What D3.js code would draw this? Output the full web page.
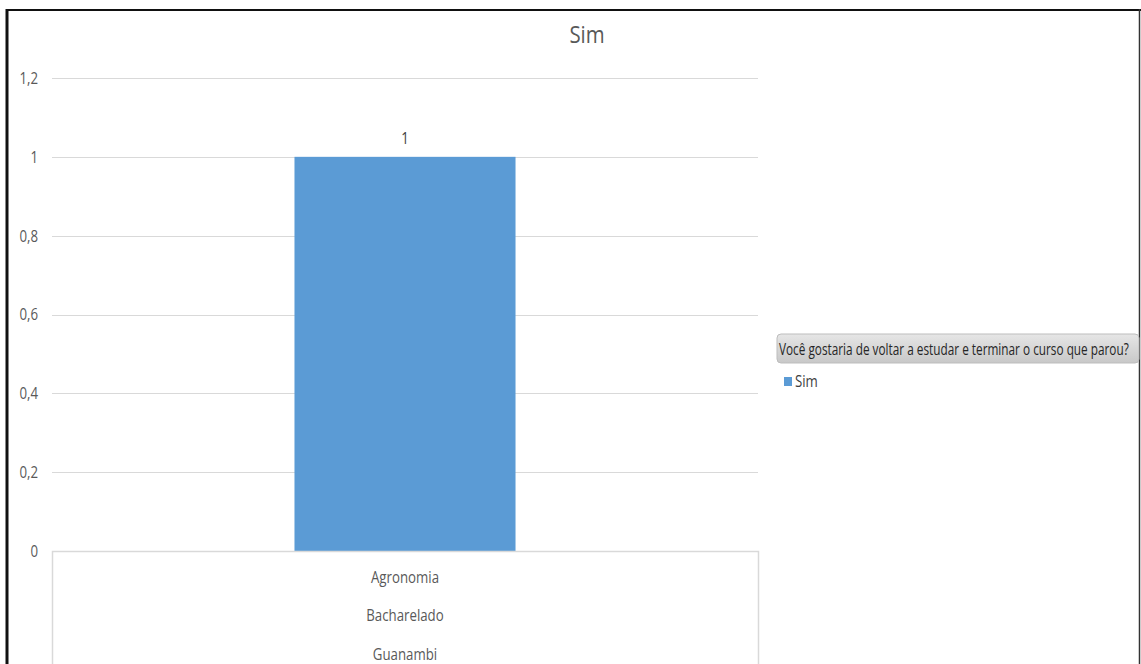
<!DOCTYPE html>
<html><head><meta charset="utf-8">
<script src="https://cdn.jsdelivr.net/npm/d3@7"></script>
<style>body{margin:0;background:#fff}svg{display:block}text{font-family:"Open Sans",sans-serif}</style>
</head><body>
<svg id="c" width="1141" height="664"></svg>
<script>
const categories = [["Agronomia","Bacharelado","Guanambi"]];
const seriesName = "Sim";
const values = [1];
const yTicks = [0,0.2,0.4,0.6,0.8,1,1.2];
const title = "Sim";
const legendTitle = "Você gostaria de voltar a estudar e terminar o curso que parou?";

const svg = d3.select("#c");
const fmt = d => String(d).replace(".", ",");
const x0 = 52, x1 = 758;
const y = d3.scaleLinear().domain([0,1.2]).range([551,78]);
const x = d3.scaleBand().domain(categories.map((c,i)=>i)).range([x0,x1]).paddingInner(0).paddingOuter(1.097);

function cond(sel, cx, k){ return sel.attr("transform",`translate(${cx},0) scale(${k},1) translate(${-cx},0)`); }

// frame
svg.append("line").attr("x1",7).attr("x2",7).attr("y1",9).attr("y2",664).attr("stroke","#111").attr("stroke-width",3);
svg.append("line").attr("x1",6).attr("x2",1141).attr("y1",10).attr("y2",10).attr("stroke","#111").attr("stroke-width",2);
svg.append("line").attr("x1",1139.5).attr("x2",1139.5).attr("y1",9).attr("y2",664).attr("stroke","#333").attr("stroke-width",1.5);

// title
cond(svg.append("text").attr("x",587).attr("y",43).attr("text-anchor","middle").attr("font-size",24).attr("fill","#595959").text(title),587,0.85);

// gridlines
svg.append("g").selectAll("line").data(yTicks.filter(t=>t>0)).join("line")
  .attr("x1",x0).attr("x2",x1).attr("y1",d=>Math.round(y(d))+0.5).attr("y2",d=>Math.round(y(d))+0.5)
  .attr("stroke","#d9d9d9").attr("stroke-width",1);

// y labels
svg.append("g").selectAll("text").data(yTicks).join("text")
  .attr("x",38).attr("y",d=>y(d)+6).attr("text-anchor","end").attr("font-size",17).attr("fill","#595959")
  .attr("transform","translate(38,0) scale(0.78,1) translate(-38,0)").text(fmt);

// bars
svg.append("g").selectAll("rect").data(values).join("rect")
  .attr("x",(d,i)=>x(i)).attr("width",x.bandwidth()).attr("y",d=>y(d)).attr("height",d=>y(0)-y(d)).attr("fill","#5b9bd5");

// data labels
svg.append("g").selectAll("text").data(values).join("text")
  .attr("x",(d,i)=>x(i)+x.bandwidth()/2).attr("y",d=>y(d)-13).attr("text-anchor","middle").attr("font-size",17).attr("fill","#404040")
  .attr("transform",(d,i)=>{const cx=x(i)+x.bandwidth()/2;return `translate(${cx},0) scale(0.78,1) translate(${-cx},0)`;}).text(fmt);

// category axis box
svg.append("path").attr("d",`M${x0+0.5},664V${y(0)+0.5}H${x1+0.5}V664`).attr("fill","none").attr("stroke","#d9d9d9").attr("stroke-width",1.5);
categories.forEach((c,i)=>{
  const cx = x(i)+x.bandwidth()/2;
  c.forEach((t,j)=>{
    cond(svg.append("text").attr("x",cx).attr("y",583+j*38.5).attr("text-anchor","middle").attr("font-size",17).attr("fill","#595959").text(t),cx,0.78);
  });
});

// legend
const defs = svg.append("defs");
const g = defs.append("linearGradient").attr("id","lg").attr("x1",0).attr("x2",0).attr("y1",0).attr("y2",1);
g.append("stop").attr("offset","0").attr("stop-color","#e6e6e6");
g.append("stop").attr("offset","1").attr("stop-color","#c8c8c8");
svg.append("rect").attr("x",777).attr("y",334).attr("width",362).attr("height",29).attr("rx",4).attr("fill","url(#lg)").attr("stroke","#bdbdbd");
const lt = svg.append("text").attr("x",779).attr("y",355).attr("font-size",16).attr("fill","#262626").text(legendTitle);
const w = lt.node().getComputedTextLength();
cond(lt, 779, 350 / w);
svg.append("rect").attr("x",784).attr("y",377).attr("width",8).attr("height",9).attr("fill","#5b9bd5");
cond(svg.append("text").attr("x",795).attr("y",387).attr("font-size",17).attr("fill","#404040").text(seriesName),795,0.78);
</script>
</body></html>
